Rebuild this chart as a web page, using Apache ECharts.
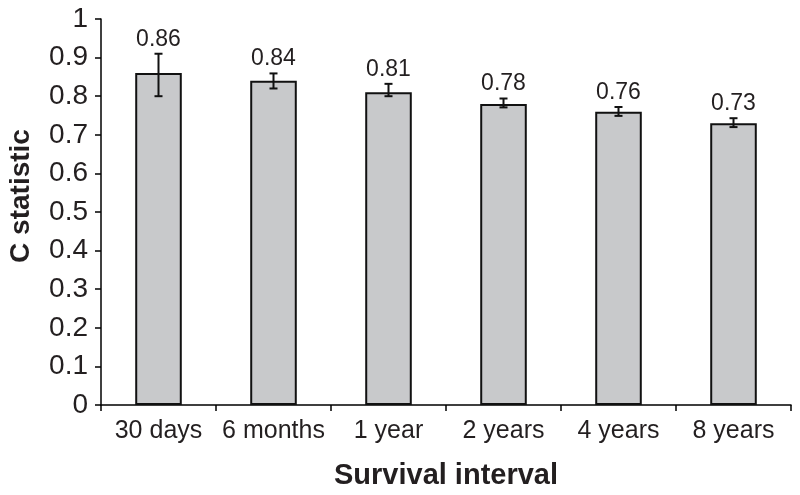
<!DOCTYPE html>
<html><head><meta charset="utf-8">
<script src="https://cdn.jsdelivr.net/npm/echarts@6/dist/echarts.min.js"></script>
<style>html,body{margin:0;padding:0;background:#fff}#c{width:800px;height:495px}</style>
</head><body><div id="c"></div>
<script>
const categories = ['30 days','6 months','1 year','2 years','4 years','8 years'];
const cStat = [0.86, 0.84, 0.81, 0.78, 0.76, 0.73];
const errLow = [0.80, 0.82, 0.80, 0.771, 0.749, 0.72];
const errHigh = [0.91, 0.859, 0.832, 0.794, 0.772, 0.743];
const yTicks = [0,0.1,0.2,0.3,0.4,0.5,0.6,0.7,0.8,0.9,1];

const FONT = '"Liberation Sans", Arial, sans-serif';
const chart = echarts.init(document.getElementById('c'));
chart.setOption({
  animation: false,
  grid: {left: 101, right: 9, top: 19, bottom: 88},
  graphic: [{
    type: 'text', x: 21, y: 196, rotation: Math.PI / 2,
    style: {text: 'C statistic', fill: '#231f20', font: 'bold 28px ' + FONT, textAlign: 'center', textVerticalAlign: 'middle'}
  }],
  xAxis: {
    type: 'category', data: categories,
    axisLine: {lineStyle: {color: '#000', width: 1.5}},
    axisTick: {show: true, interval: 0, length: 6, lineStyle: {color: '#000', width: 1.5}},
    axisLabel: {interval: 0, color: '#231f20', fontSize: 25, fontFamily: FONT, margin: 14},
    name: 'Survival interval', nameLocation: 'middle', nameGap: 56,
    nameTextStyle: {color: '#231f20', fontSize: 29, fontWeight: 'bold', fontFamily: FONT}
  },
  yAxis: {
    type: 'value', min: 0, max: 1, interval: 0.1,
    axisLine: {show: true, lineStyle: {color: '#000', width: 1.5}},
    axisTick: {show: true, length: 6, lineStyle: {color: '#000', width: 1.5}},
    splitLine: {show: false},
    axisLabel: {color: '#231f20', fontSize: 28, fontFamily: FONT, margin: 13,
      formatter: v => { const t = yTicks.find(x => Math.abs(x - v) < 1e-9); return t === undefined ? '' : String(t); }}
  },
  series: [{
    type: 'bar', data: cStat, barWidth: '40.5%',
    itemStyle: {color: '#c8c9cb', borderColor: '#111', borderWidth: 2}
  }, {
    type: 'custom',
    data: categories.map((c, i) => [i, errLow[i], errHigh[i], cStat[i]]),
    renderItem: (params, api) => {
      const x = api.value(0);
      const lo = api.coord([x, api.value(1)]);
      const hi = api.coord([x, api.value(2)]);
      const cap = 4;
      const st = {stroke: '#111', lineWidth: 2};
      return {type: 'group', children: [
        {type: 'line', shape: {x1: lo[0], y1: lo[1], x2: hi[0], y2: hi[1]}, style: st},
        {type: 'line', shape: {x1: lo[0]-cap, y1: lo[1], x2: lo[0]+cap, y2: lo[1]}, style: st},
        {type: 'line', shape: {x1: hi[0]-cap, y1: hi[1], x2: hi[0]+cap, y2: hi[1]}, style: st},
        {type: 'text', x: hi[0], y: hi[1] - 3, style: {text: api.value(3).toFixed(2), fill: '#231f20', font: '23px ' + FONT, textAlign: 'center', textVerticalAlign: 'bottom'}}
      ]};
    },
    z: 5
  }]
});
</script></body></html>
